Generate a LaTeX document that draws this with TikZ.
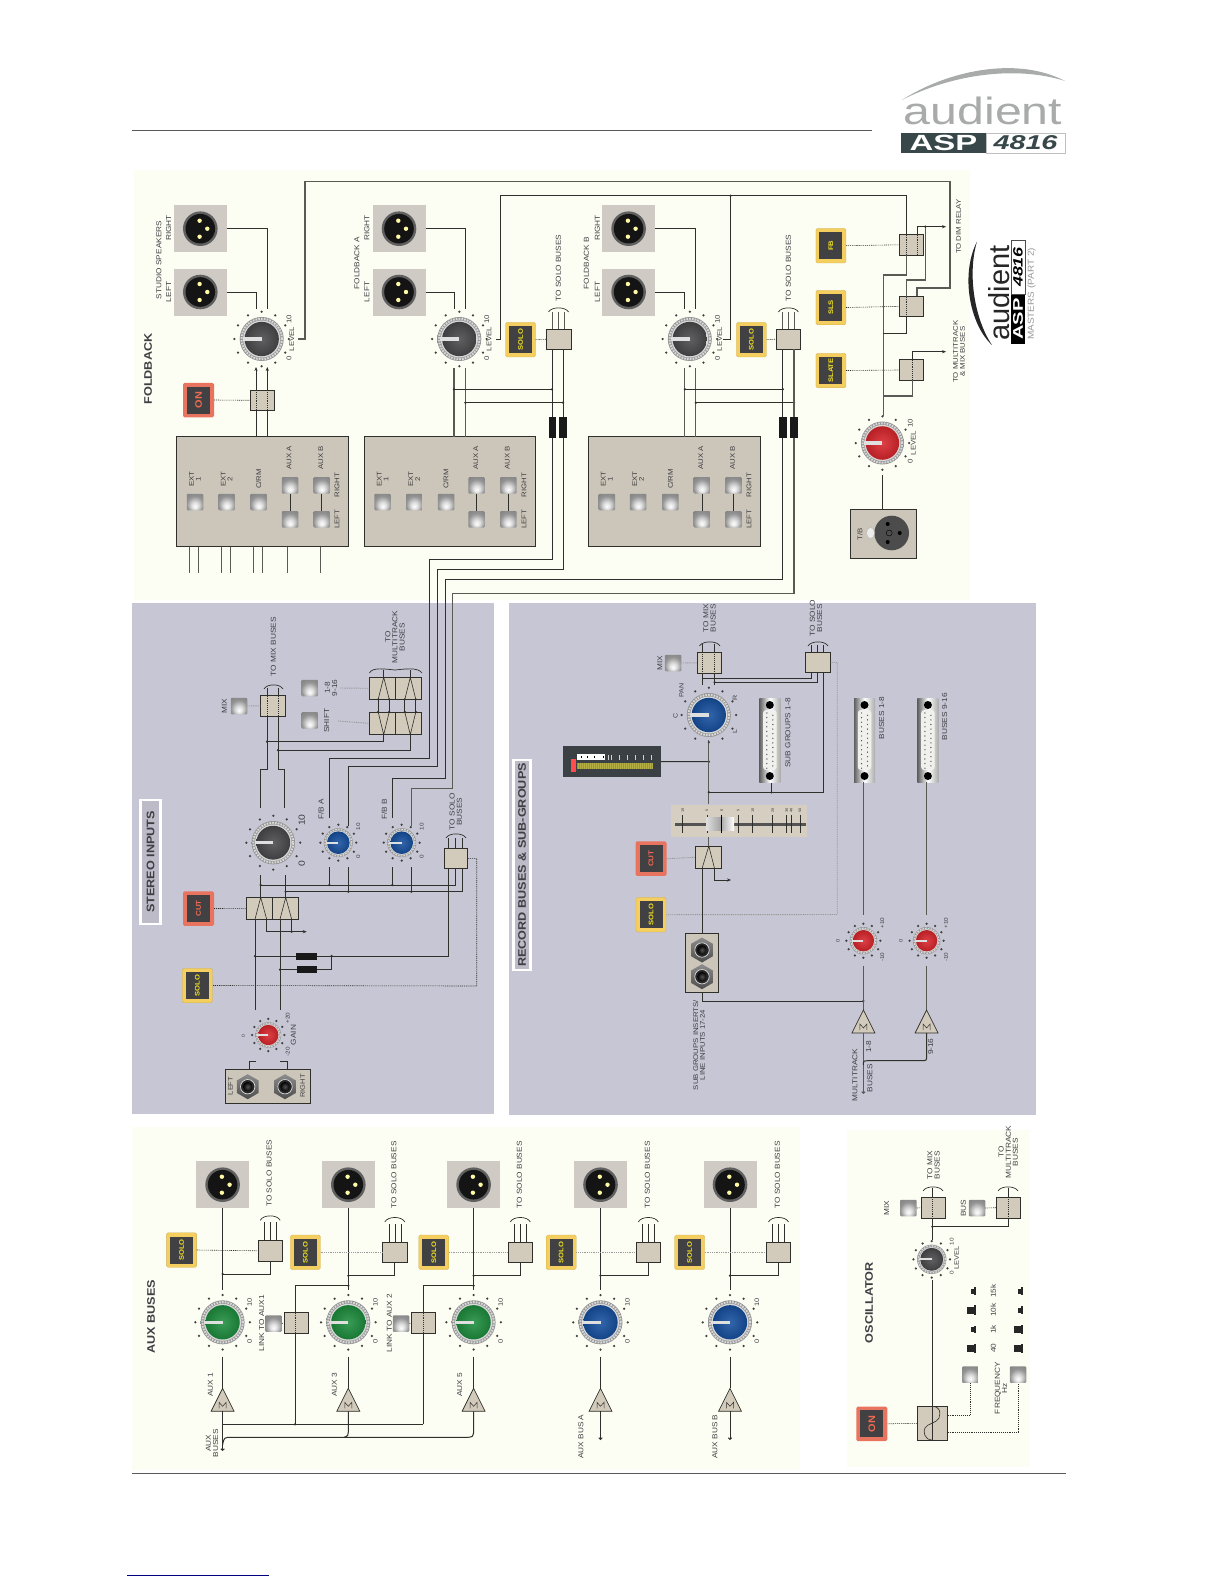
\documentclass[tikz,border=0pt]{standalone}
\usepackage{fontspec}
\setmainfont[FakeStretch=1.15]{Liberation Sans}
\newfontfamily\plainsans{Liberation Sans}
\usetikzlibrary{arrows.meta,calc,shapes.geometric}
\definecolor{creamp}{HTML}{FDFEF3}
\definecolor{lilacp}{HTML}{C7C6D4}
\definecolor{boxc}{HTML}{D2CBBC}
\definecolor{panelc}{HTML}{CCC5B9}
\definecolor{platec}{HTML}{CFCBC4}
\definecolor{linec}{HTML}{2F2F2B}
\definecolor{glinec}{HTML}{5A5A55}
\definecolor{textc}{HTML}{3E3E43}
\definecolor{yelb}{HTML}{F4CE5E}
\definecolor{redb}{HTML}{E8735F}
\definecolor{darkb}{HTML}{414144}
\definecolor{yelt}{HTML}{F2E21E}
\definecolor{redt}{HTML}{EE6A50}
\definecolor{kred}{HTML}{D8262C}
\definecolor{kblue}{HTML}{17509F}
\definecolor{kgreen}{HTML}{1E8E3E}
\definecolor{kgray}{HTML}{4A4A4C}
\definecolor{logog}{HTML}{A9ABAB}
\definecolor{logod}{HTML}{37474A}
\definecolor{meterc}{HTML}{3B4045}
\pgfdeclareradialshading{btnsh}{\pgfpoint{0bp}{-14bp}}{color(0bp)=(white); color(10bp)=(white!75!gray); color(25bp)=(gray!85!white); color(50bp)=(gray!90!black)}
\newcounter{lc}
\newcommand{\lab}[4][7.2]{\stepcounter{lc}\node[lbl,font=\fontsize{#1}{#1}\selectfont] (lab\arabic{lc}) at (#2,#3) {#4};}
\newcommand{\ttl}[3]{\stepcounter{lc}\node[lbl,font=\bfseries\fontsize{11}{12}\selectfont,text=textc] (lab\arabic{lc}) at (#1,#2) {#3};}
% name x y radius colour
\newcommand{\knob}[5]{%
 \foreach \a in {0,30,...,330}{\fill[black!75] ({#2+1.24*#4*cos(\a)},{#3+1.24*#4*sin(\a)}) circle (1.25pt);}
 \node[circle,minimum size=2*#4 pt,inner sep=0pt,shade,inner color=gray!35,outer color=gray!85] (#1) at (#2,#3) {};
 \draw[white!70!gray,line width=0.09*#4 pt,dash pattern=on 1.6pt off 1.2pt] (#2,#3) circle (0.92*#4 pt);
 \fill[white!70!gray] (#2,#3) circle (0.84*#4 pt);
 \shade[inner color=#5!88!white,outer color=#5!85!black] (#2,#3) circle (0.78*#4 pt);
 \draw[gray!25,line width=0.16*#4 pt] (#2,#3) -- ({#2-0.86*#4},#3);
}
\newcommand{\xlr}[3]{%
 \node[fill=platec,minimum width=53pt,minimum height=47pt,inner sep=0pt] (#1) at (#2,#3) {};
 \fill[gray!75!black] (#2,#3) circle (17.3pt);
 \fill[black!92] (#2,#3) circle (14.8pt);
 \foreach \dx/\dy in {-0.7/-8,7/0,-0.7/8}{\fill[yellow!35!white] ({#2+\dx},{#3+\dy}) circle (2.2pt);}
}
% name x y text
\newcommand{\ybtn}[4]{%
 \node[fill=yelb,draw=yelb!85!black,line width=0.3pt,rounded corners=1.5pt,minimum width=30pt,minimum height=34.5pt,inner sep=0pt] (#1) at (#2,#3) {};
 \node[fill=darkb,minimum width=27pt,minimum height=23pt,inner sep=0pt,text=yelt,font=\bfseries\fontsize{6.6}{6.6}\selectfont,rotate=90] (#1t) at (#2,#3) {\makebox[0pt]{#4}};
}
\newcommand{\rbtn}[5][7]{%
 \node[fill=redb,rounded corners=1.5pt,minimum width=31pt,minimum height=34.5pt,inner sep=0pt] (#2) at (#3,#4) {};
 \node[fill=darkb,minimum width=27pt,minimum height=23pt,inner sep=0pt,text=redt,font=\bfseries\fontsize{#1}{#1}\selectfont,rotate=90] (#2t) at (#3,#4) {\makebox[0pt]{#5}};
}
\newcommand{\pb}[3]{\node[shading=btnsh,minimum width=16.5pt,minimum height=16.5pt,inner sep=0pt,rounded corners=1pt] (#1) at (#2,#3) {};}
% name cx cy w h
\newcommand{\swb}[5]{\node[swbox,minimum width=#4 pt,minimum height=#5 pt] (#1) at (#2,#3) {};}
\newcommand{\jd}[2]{\fill[linec] (#1,#2) circle (1.25pt);}
\newcommand{\brk}[3]{\draw[wire,line width=0.7pt] (#1,#3+4) .. controls (#1+3,#3-1.5) and (#2-3,#3-1.5) .. (#2,#3+4);}
\newcommand{\amp}[3]{\coordinate (#1) at (#2,#3);
 \draw[linec,fill=boxc,line width=0.7pt] (#2,#3) -- ({#2-11.5},{#3+23}) -- ({#2+11.5},{#3+23}) -- cycle;
 \draw[linec,line width=0.5pt] ({#2-3.5},{#3+20}) -- ({#2-3.5},{#3+14}) -- (#2,{#3+18}) -- ({#2+3.5},{#3+14}) -- ({#2+3.5},{#3+20});}
\newcommand{\jack}[3]{%
 \node[regular polygon,regular polygon sides=6,rotate=30,minimum size=25pt,inner sep=0pt,shading=axis,top color=gray!90,bottom color=gray!60!black] (#1) at (#2,#3) {};
 \draw[gray!25,line width=0.7pt,fill=black!85] (#2,#3) circle (7.2pt);
 \shade[inner color=gray!65!black,outer color=black] (#2,#3) circle (4.8pt);
}
% name, xleft
\newcommand{\dsub}[2]{%
 \node[minimum width=21pt,minimum height=84pt,inner sep=0pt,shading=axis,left color=gray!75!black,right color=gray!65,middle color=white,shading angle=90] (#1) at ({#2+10.5},740) {};
 \node[fill=yellow!12!gray!15,rounded corners=3pt,minimum width=13.5pt,minimum height=60pt,inner sep=0pt] (#1b) at ({#2+10.5},740) {};
 \fill[black] ({#2+10.5},705) circle (4pt);
 \fill[black] ({#2+10.5},776) circle (4pt);
 \foreach \i in {0,...,12}{\fill[gray!65!black] ({#2+7.5},{713+\i*4.6}) circle (0.7pt);}
 \foreach \i in {0,...,11}{\fill[gray!65!black] ({#2+13.5},{715.3+\i*4.6}) circle (0.7pt);}
}
% selector panel: name xl xr ext1 ext2 crm auxa auxb rl
\newcommand{\selpanel}[9]{%
 \node[draw=linec,line width=0.9pt,fill=panelc,minimum width=(#3-#2)*1pt,minimum height=110pt,inner sep=0pt] (#1) at ({(#2+#3)/2},491.7) {};
 \pb{#1e}{#4}{502}\pb{#1f}{#5}{502}\pb{#1c}{#6}{502}
 \pb{#1ar}{#7}{485.3}\pb{#1al}{#7}{519.3}\draw[linec,line width=0.6pt] (#1ar) -- (#1al);
 \pb{#1br}{#8}{485.3}\pb{#1bl}{#8}{519.3}\draw[linec,line width=0.6pt] (#1br) -- (#1bl);
 \lab[6.8]{#4}{479}{EXT\\1}\lab[6.8]{#5}{479}{EXT\\2}\lab[6.8]{#6}{479}{C/RM}
 \lab[6.8]{#7-1}{458}{AUX A}\lab[6.8]{#8-1}{458}{AUX B}
 \lab[6.8]{#9}{485}{RIGHT}\lab[6.8]{#9}{519}{LEFT}
}
\tikzset{
 lbl/.style={rotate=90,text=textc,align=center,inner sep=0pt},
 wire/.style={draw=linec,line width=1pt},
 gwire/.style={draw=glinec,line width=1.1pt},
 ctl/.style={draw=linec,line width=0.6pt,dash pattern=on 1pt off 0.9pt},
 ctlg/.style={draw=gray!80,line width=0.9pt,dash pattern=on 1pt off 0.8pt},
 swbox/.style={draw=linec,line width=0.7pt,fill=boxc,inner sep=0pt},
 arr/.style={-{Stealth[length=4pt,width=3.2pt]}},
 tail/.style={-{Straight Barb[length=1.6pt,width=3.5pt]}},
 res/.style={fill=black!90,inner sep=0pt},
 zig/.style={draw=linec,line width=0.6pt},
}
\begin{document}
\begin{tikzpicture}[x=1pt,y=-1pt]
\useasboundingbox (0,0) rectangle (1224,1584);
\fill[white] (0,0) rectangle (1224,1584);
% panels
\fill[creamp] (134,170) rectangle (970,600);
\fill[lilacp] (132,603) rectangle (494,1114);
\fill[lilacp] (509,603) rectangle (1036,1115);
\fill[creamp] (132,1127) rectangle (800,1470);
\fill[creamp] (847,1130) rectangle (1030,1467);
% rules
\draw[gray!70!black,line width=0.7pt] (132,130.5) -- (872,130.5);
\draw[gray!70!black,line width=1pt] (132,1473) -- (1066,1473);
\draw[blue!50!black,line width=1pt] (127,1575) -- (269,1575);
% header logo
\fill[logog] (902,100) .. controls (945,72) and (1015,55) .. (1065,81) .. controls (1015,65) and (950,75) .. (902,100) -- cycle;
\node[text=logog,font=\plainsans\fontsize{38}{38}\selectfont,xscale=1.27,inner sep=0pt,anchor=center] (logoaud) at (983,111) {audient};
\node[fill=logod,minimum width=85pt,minimum height=20pt,inner sep=0pt,text=white,font=\bfseries\fontsize{22}{22}\selectfont] (logoasp) at (943.5,143) {\scalebox{1.3}[1]{ASP}};
\node[draw=gray!50,line width=0.5pt,fill=white,minimum width=79pt,minimum height=20pt,inner sep=0pt,text=logod,font=\bfseries\itshape\fontsize{20}{20}\selectfont] (logonum) at (1025.5,143) {\scalebox{1.25}[1]{4816}};
% small logo
\fill[black!85] (977,241.5) .. controls (960,275) and (970,325) .. (992,345) .. controls (975,320) and (967,275) .. (977,241.5) -- cycle;
\node[lbl,text=black!85,font=\plainsans\fontsize{29}{29}\selectfont] (slogo) at (999,293) {audient};
\node[fill=black,minimum width=49pt,minimum height=14pt,inner sep=0pt,text=white,font=\bfseries\fontsize{14}{14}\selectfont,rotate=90] (sasp) at (1018,319) {\scalebox{1.25}[1]{ASP}};
\node[draw=black!70,line width=0.5pt,fill=white,minimum width=54pt,minimum height=14pt,inner sep=0pt,text=black,font=\bfseries\itshape\fontsize{13.5}{13.5}\selectfont,rotate=90] (snum) at (1018,267) {\scalebox{1.15}[1]{4816}};
\node[lbl,text=gray!80,font=\fontsize{8.7}{9}\selectfont] (smast) at (1031.7,294) {MASTERS (PART 2)};

%% FOLDBACK -------------------------------------------------------
\ttl{148}{369}{FOLDBACK}
\xlr{xs1}{200.3}{228.7}\xlr{xs2}{200.3}{292}
\xlr{xa1}{399}{228.7}\xlr{xa2}{399}{292}
\xlr{xb1}{628.6}{228.7}\xlr{xb2}{628.6}{292}
\lab{159}{260}{STUDIO SPEAKERS}\lab{168.7}{228}{RIGHT}\lab{168.7}{292}{LEFT}
\lab{357}{263}{FOLDBACK A}\lab{367}{228}{RIGHT}\lab{367}{292}{LEFT}
\lab{586.5}{263}{FOLDBACK B}\lab{597.5}{228}{RIGHT}\lab{597.5}{292}{LEFT}
% wires behind
\draw[wire] (xs1.east) -| (267.5,309);
\draw[wire] (xs2.east) -| (256,309);
\draw[wire] (xa1.east) -| (465.3,309);
\draw[wire] (xa2.east) -| (454,309);
\draw[wire] (xb1.east) -| (695.8,309);
\draw[wire] (xb2.east) -| (684.9,309);
\knob{k1}{261.7}{339}{22}{kgray}
\knob{k2}{459.3}{339}{22}{kgray}
\knob{k3}{689.8}{339}{22}{kgray}
\lab[6.8]{291.7}{339}{LEVEL}\lab[6.8]{289}{358}{0}\lab[6.8]{289}{319}{10}
\lab[6.8]{489}{339}{LEVEL}\lab[6.8]{486.7}{358}{0}\lab[6.8]{486.7}{319}{10}
\lab[6.8]{719.6}{339}{LEVEL}\lab[6.8]{717.6}{358}{0}\lab[6.8]{717.6}{319}{10}
% selector panels
\selpanel{sel1}{176.7}{348.7}{195}{226.7}{258.7}{290}{321.7}{337}
\selpanel{sel2}{364.3}{535.3}{382.7}{414.3}{446}{476.7}{508.3}{524}
\selpanel{sel3}{588.5}{760.4}{606.8}{638.2}{670.4}{701.8}{733.5}{749}
\foreach \x in {189.3,198.7,221.3,230.7,253.3,262.7,287.3,320.7}{\draw[gwire] (\x,546.7) -- (\x,572.7);}
% ON switch
\rbtn[9.5]{on1}{198.5}{400}{ON}
\swb{sw1}{262}{400.3}{24}{20.6}
\draw[ctl] (on1.east) -- (sw1.west);
\draw[wire] (256,436.7) -- (256,410.6);
\draw[wire] (267.3,436.7) -- (267.3,410.6);
\draw[wire,arr] (256,390) -- (256,367);
\draw[wire,arr] (267.3,390) -- (267.3,367);
\draw[ctl] (256,390) -- (256,410.6);\draw[ctl] (267.3,390) -- (267.3,410.6);
% level out of studio speakers to dim relay
\coordinate (dimT) at (917,316);
\draw[gwire] (298,339) -| (305,181.7) -- (950,181.7) |- (917,288) -- (917,296.7);
\draw[ctl] (917,296.7) -- (dimT);
\draw[wire] (496,339) -| (500.7,195.7) -- (906.2,195.7) -- (906.2,234.7);
\draw[wire] (722.6,339) -| (730.6,195.7);\jd{730.6}{195.7}
% FB A wires
\draw[gwire] (454,368) -- (454,436.7);
\draw[gwire] (465.3,368) -- (465.3,436.7);
\draw[gwire] (684.9,368) -- (684.9,436.7);
\draw[gwire] (695.8,368) -- (695.8,436.7);
\draw[wire] (454,389.3) -- (552,389.3);\jd{454}{389.3}\jd{552}{389.3}
\draw[wire] (465.3,402.7) -- (563,402.7);\jd{465.3}{402.7}\jd{563}{402.7}
\draw[wire] (684.9,389.3) -- (782.8,389.3);\jd{684.9}{389.3}\jd{782.8}{389.3}
\draw[wire] (695.8,402.7) -- (794,402.7);\jd{695.8}{402.7}\jd{794}{402.7}
% solo boxes foldback
\ybtn{soA}{520.5}{339.7}{SOLO}
\ybtn{soB}{751.4}{339.7}{SOLO}
\swb{bxA}{558.7}{339.2}{24.5}{20.3}
\swb{bxB}{788.4}{339.2}{24}{20.3}
\draw[ctl] (soA.east) -- (bxA.west);
\draw[ctl] (soB.east) -- (bxB.west);
\foreach \c in {558.5,788.4}{
 \foreach \d in {-6,0,6}{\draw[gwire,line width=0.7pt] ({\c+\d},329) -- ({\c+\d},311.5);}
 \brk{\c-10}{\c+10}{308}
}
\lab[7.2]{558.4}{268}{TO SOLO BUSES}
\lab[7.2]{788.4}{268}{TO SOLO BUSES}
% long lines to stereo
\draw[wire] (552,349.3) -- (552,559.3) -- (429.3,559.3) -- (429.3,758.3) -- (329.3,758.3) -- (329.3,818);
\draw[wire] (563,349.3) -- (563,569.3) -- (437.3,569.3) -- (437.3,766.7) -- (348.3,766.7) -- (348.3,826);
\draw[wire] (782.8,349.3) -- (782.8,579.3) -- (445.3,579.3) -- (445.3,778.7) -- (392.3,778.7) -- (392.3,818);
\draw[gwire] (794,349.3) -- (794,593.3) -- (452.7,593.3) -- (452.7,788.3) -- (411.3,788.3) -- (411.3,826);
\foreach \x [count=\i] in {552.3,563,782.9,794}{\node[res,minimum width=7.3pt,minimum height=20.7pt] (rb\i) at (\x,427.3) {};}
% talkback
\node[draw=linec,line width=0.9pt,fill=panelc,minimum width=66pt,minimum height=49pt,inner sep=0pt] (tb) at (883.7,533.5) {};
\fill[gray!60!black] (891.7,533) circle (17.3pt);
\foreach \dx/\dy in {-4/-9,-4/9,8/0}{\fill[black] ({891.7+\dx},{533+\dy}) circle (2pt);}
\draw[black,line width=0.4pt] (889.2,533) circle (3pt);
\fill[white!85!gray,draw=gray!60,line width=0.3pt] (870.5,533) ellipse (4pt and 5.5pt);
\lab[6.8]{860}{534}{T/B}
\knob{ktb}{882.4}{443}{21.5}{kred}
\lab[6.8]{913.3}{443}{LEVEL}\lab[6.8]{910.3}{461.7}{0}\lab[6.8]{910.3}{423}{10}
\draw[wire] (882.4,508.5) -- (882.4,475);
\ybtn{bFB}{830.9}{245.7}{FB}
\ybtn{bSLS}{830.9}{307.5}{SLS}
\ybtn{bSLT}{830.9}{370.5}{SLATE}
\swb{sFB}{911.3}{244.8}{24}{20.4}
\swb{sSL}{911.3}{306.4}{24}{19.6}
\swb{sSA}{911.3}{370}{24}{20.4}
\draw[ctl] (bFB.east) -- (sFB.west);
\draw[ctl] (bSLS.east) -- (sSL.west);
\draw[ctl] (bSLT.east) -- (sSA.west);
% talkback routing
\draw[gwire] (883.4,416) -- (883.4,275) -- (906.2,275) -- (906.2,255);
\draw[ctl] (906.2,234.7) -- (906.2,255);
\draw[wire] (883.4,333.5) -- (906.2,333.5) -- (906.2,316.2);
\draw[ctl] (906.2,296.7) -- (906.2,316.2);
\draw[gwire] (906.2,296.7) -- (906.2,280) -- (925.2,280) -- (925.2,226.7);
\draw[gwire] (883.4,396) -- (912.3,396) -- (912.3,380.2);
\draw[ctl] (912.3,359.8) -- (912.3,380.2);
\draw[wire,arr] (912.3,359.8) -- (912.3,351.7) -- (946,351.7);
\draw[wire,arr] (917,234.7) -- (917,226.7) -- (946,226.7);
\draw[ctl] (917,234.7) -- (917,255);
\jd{925.2}{226.7}
\lab[6.8]{958.5}{226.7}{TO DIM RELAY}
\lab[6.8]{959}{351.7}{TO MULTITRACK\\\& MIX BUSES}

%% STEREO INPUTS ----------------------------------------------------
\node[fill=lilacp!85!gray,draw=white,line width=2.4pt,minimum width=20pt,minimum height=124pt,inner sep=0pt] (tst) at (150.5,862) {};
\ttl{150.5}{862}{STEREO INPUTS}
\rbtn{cutS}{198.5}{908.5}{CUT}
\ybtn{soS}{197.3}{985.5}{SOLO}
\swb{cs1}{259.5}{908.3}{25.6}{22}
\swb{cs2}{285.3}{908.3}{26}{22}
\draw[ctl] (cutS.east) -- (cs1.west);
\draw[zig] (255,919.3) -- (260.7,897.3) -- (266.7,919.3);
\draw[zig] (280,919.3) -- (285.7,897.3) -- (291.7,919.3);
\draw[wire] (255,919.3) -- (255,1010);
\draw[wire] (280,919.3) -- (280,1010);
\draw[wire] (260.7,897.3) -- (260.7,875);
\draw[wire] (285.7,897.3) -- (285.7,875);
\draw[wire,arr] (266.7,919.3) -- (266.7,931.7) -- (306.7,931.7);
\draw[wire] (291.7,919.3) -- (291.7,931.7);\jd{291.7}{931.7}
\knob{kst}{273.3}{842.7}{21.7}{kgray}
\lab[9]{301.7}{820}{10}\lab[9]{301.7}{863.3}{0}
\draw[wire] (260.3,808) -- (260.3,769.3) -- (267,769.3) -- (267,716);
\draw[wire] (284.3,808) -- (284.3,769.3) -- (278,769.3) -- (278,716);
% mix
\pb{bMixS}{239}{706}\lab{224.3}{706}{MIX}
\swb{mxS}{272.8}{705.8}{24.3}{20.4}
\draw[ctlg] (bMixS.east) -- (mxS.west);
\draw[wire] (267,695.7) -- (267,688);\draw[wire] (278,695.7) -- (278,688);
\draw[ctl] (267,695.7) -- (267,716);\draw[ctl] (278,695.7) -- (278,716);
\brk{264}{283}{685}
\lab[7.2]{273.3}{646.7}{TO MIX BUSES}
% multitrack
\swb{m1}{382.2}{723.3}{25.7}{22.7}
\swb{m2}{408}{723.3}{26}{22.7}
\swb{m3}{382.2}{688.3}{25.7}{22}
\swb{m4}{408}{688.3}{26}{22}
\draw[wire] (267,741.7) -- (383.7,741.7) -- (383.7,734.7);\jd{267}{741.7}
\draw[wire] (278,750) -- (410.3,750) -- (410.3,734.7);\jd{278}{750}
\foreach \c in {383.7,410.3}{
 \draw[zig] (\c,734.7) -- ({\c-5.5},712) ({\c},734.7) -- ({\c+5.5},712);
 \draw[zig] ({\c-5.5},699.3) -- (\c,677.3) -- ({\c+5.5},699.3);
 \draw[wire] ({\c-5.5},699.3) -- ({\c-5.5},712);
 \draw[wire] ({\c+5.5},699.3) -- ({\c+5.5},712);
 \jd{\c-5.5}{699.3}\jd{\c+5.5}{699.3}\jd{\c-5.5}{712}\jd{\c+5.5}{712}
 \draw[wire] (\c,677.3) -- (\c,670);
}
\draw[wire,line width=0.7pt] (369.5,673) .. controls (372,667) and (385,669) .. (395,670) .. controls (405,669) and (418,667) .. (422,673);
\lab[7.2]{395}{637}{TO\\MULTITRACK\\BUSES}
\pb{bShift}{309.7}{720.3}\pb{b18}{309.7}{688}
\lab{326.7}{720.7}{SHIFT}\lab{331}{688}{1-8\\9-16}
\coordinate (cS) at (338,721);\coordinate (c18) at (340,688);
\draw[ctlg] (cS) -- (m1.west);\draw[ctlg] (c18) -- (m3.west);
% fb knobs
\knob{kfa}{338.3}{842.7}{14.5}{kblue}
\knob{kfb}{401.7}{842.7}{14.5}{kblue}
\lab{321}{809.3}{F/B A}\lab{384.3}{809.3}{F/B B}
\lab[5.5]{358.3}{826.7}{10}\lab[5.5]{358.3}{856.7}{0}
\lab[5.5]{421.7}{826.7}{10}\lab[5.5]{421.7}{856.7}{0}
% buses
\draw[wire] (260.7,885) -- (455.7,885) -- (455.7,868.3);\jd{260.7}{885}
\draw[wire] (285.7,891.7) -- (462.3,891.7) -- (462.3,868.3);\jd{285.7}{891.7}
\draw[wire] (329.3,885) -- (329.3,867);\draw[wire] (348.3,891.7) -- (348.3,867);
\draw[wire] (392.3,885) -- (392.3,867);\draw[wire] (411.3,891.7) -- (411.3,867);
\jd{348.3}{891.7}\jd{411.3}{891.7}\jd{329.3}{885}\jd{392.3}{885}
\swb{soBx}{456}{858.3}{23.4}{20}
\foreach \x in {448.5,455.7,462.3}{\draw[wire,line width=0.7pt] (\x,848.3) -- (\x,838);}
\brk{446}{466}{834}
\lab[7.2]{455.7}{811.7}{TO SOLO\\BUSES}
\draw[wire] (448.5,868.3) -- (448.5,956) -- (254.3,956);\jd{255}{956}
\draw[wire] (280,969.5) -- (331.7,969.5) -- (331.7,956);\jd{280}{969.5}\jd{331.7}{956}
\node[res,minimum width=20.5pt,minimum height=7.3pt] (rs1) at (306.3,956.3) {};
\node[res,minimum width=20.5pt,minimum height=7.3pt] (rs2) at (307,969.5) {};
\draw[ctl] (soBx.east) -| (476.7,986) -- (soS.east);
% gain
\knob{kgn}{268.3}{1035}{13}{kred}
\lab{293.3}{1035}{GAIN}\lab[5.5]{287.7}{1018}{+20}\lab[5.5]{287.7}{1051.7}{-20}\lab[4.5]{243.3}{1035.7}{0}
\node[draw=linec,line width=0.9pt,fill=panelc,minimum width=85pt,minimum height=34pt,inner sep=0pt] (inS) at (267.5,1086.3) {};
\jack{jL}{247.7}{1086.7}\jack{jR}{285}{1086.7}
\lab[6.5]{230.3}{1086}{LEFT}\lab[6.5]{302.7}{1086}{RIGHT}
\draw[wire,line width=0.7pt] (249,1069.3) -- (249,1061.7) -- (256,1061.7);
\draw[wire,line width=0.7pt] (287,1069.3) -- (287,1061.7) -- (280,1061.7);

%% RECORD BUSES --------------------------------------------------
\node[fill=lilacp!85!gray,draw=white,line width=2.4pt,minimum width=17pt,minimum height=210pt,inner sep=0pt] (trec) at (522,865) {};
\ttl{522}{865}{RECORD BUSES \& SUB-GROUPS}
% meter
\node[fill=meterc,minimum width=98pt,minimum height=31pt,inner sep=0pt] (met) at (611.6,761.5) {};
\fill[white] (577,754) rectangle (605,760);
\fill[yellow!65!black!95] (577,763) rectangle (652.7,768.5);
\foreach \i in {0,...,37}{\draw[black!45,line width=0.3pt] ({577.5+\i*2},763) -- ({577.5+\i*2},768.5);}
\fill[red!70!white] (571,759) rectangle (575.7,771.7);
\foreach \x in {608,611,619,627,635,643,651}{\draw[gray!35,line width=0.4pt] (\x,755) -- (\x,759.5);}
\foreach \x in {581,587,594,603}{\draw[black,line width=0.4pt] (\x,756) -- (\x,758);}
\draw[wire] (met.east) -- (708.8,761.7);\jd{708.8}{761.7}
% main vertical
\draw[gwire] (708.8,740) -- (708.8,804);
\draw[wire] (708.8,792.3) -- (823.8,792.3) -- (823.8,672.7);\jd{708.8}{792.3}\jd{771.5}{792.3}
\draw[wire] (771.5,792.3) -- (771.5,781.7);
\knob{kpan}{708.8}{715}{22}{kblue}
\lab[6.2]{681.4}{690.7}{PAN}\lab[6.2]{675.5}{715.7}{C}\lab[6.2]{735}{697.7}{R}\lab[6.2]{735}{732}{L}
% mix and solo
\swb{mxR}{709}{662.8}{24.3}{21}
\swb{soR}{818}{662.5}{24.6}{20.4}
\pb{bMixR}{673}{663}\lab{660}{663.3}{MIX}
\draw[ctlg] (bMixR.east) -- (mxR.west);
\draw[wire] (702.6,685) -- (702.6,673.3);\draw[wire] (714.6,685) -- (714.6,673.3);
\draw[wire] (702.6,652.3) -- (702.6,644);\draw[wire] (714.6,652.3) -- (714.6,644);
\draw[ctl] (702.6,652.3) -- (702.6,673.3);\draw[ctl] (714.6,652.3) -- (714.6,673.3);
\brk{699.5}{720}{642}
\lab[7.2]{709.5}{618}{TO MIX\\BUSES}
\foreach \x in {811,817.3,823.8}{\draw[wire,line width=0.7pt] (\x,652.3) -- (\x,645);}
\brk{808}{828}{642}
\lab[7.2]{816}{618}{TO SOLO\\BUSES}
\draw[wire] (702.6,678) -- (811,678) -- (811,672.7);
\draw[wire] (714.6,682.3) -- (817.3,682.3) -- (817.3,672.7);\jd{714.6}{682.3}
\rbtn{cutR}{651}{858.7}{CUT}
\ybtn{soRb}{651}{914.7}{SOLO}
\draw[ctlg] (soR.east) -| (837.2,914.5) -- (soRb.east);
\swb{csR}{708.2}{857.3}{26.4}{22.7}
\draw[ctlg] (cutR.east) -- (csR.west);
\draw[zig] (702,868.7) -- (708.8,846) -- (714.6,868.7);
\draw[gwire] (708.8,846) -- (708.8,837);
% fader
\node[fill=boxc!92!white,minimum width=136.5pt,minimum height=32pt,inner sep=0pt] (fad) at (739,821) {};
\fill[gray!65!black] (675,822.7) rectangle (806,825.7);
\foreach \x/\t [count=\i] in {682.7/10,707/5,721.7/0,738.3/5,752.7/10,772.7/20,786.7/30,791.3/40,800/50}{
 \draw[linec,line width=0.8pt] (\x,815) -- (\x,833);
 \node[lbl,font=\fontsize{3.4}{3.4}\selectfont,text=black!80] (ft\i) at (\x,810.5) {\t};
}
\node[shading=axis,left color=gray!25,right color=white,middle color=gray!70,shading angle=90,minimum width=28pt,minimum height=13.4pt,inner sep=0pt] (fh) at (720,824) {};
\draw[black,line width=1.4pt] (721.7,815) -- (721.7,833);
% insert jacks
\node[draw=linec,line width=0.9pt,fill=panelc,minimum width=32.5pt,minimum height=59.4pt,inner sep=0pt] (jbR) at (701.8,963) {};
\jack{jR1}{702}{950}\jack{jR2}{702}{976.7}
\lab[6.8]{699}{1045}{SUB GROUPS INSERTS/\\LINE INPUTS 17-24}
\draw[wire] (702,868.7) -- (702,933.3);
\draw[wire,arr] (714.6,868.7) -- (714.6,880) -- (731,880);
\draw[wire] (702,992.7) -- (702,1001) -- (863.4,1001);\jd{863.4}{1001}
% dsubs
\dsub{dA}{759.3}\dsub{dB}{854}\dsub{dC}{917.4}
\lab{788}{733}{SUB GROUPS 1-8}\lab{881.6}{718}{BUSES 1-8}\lab{944.6}{716.7}{BUSES 9-16}
\draw[gwire] (863.4,782) -- (863.4,915);
\draw[gwire] (926.6,782) -- (926.6,915);
\knob{kr1}{863.4}{940.7}{13.7}{kred}
\knob{kr2}{926.6}{940.7}{13.7}{kred}
\lab[5.5]{882.2}{923.3}{+10}\lab[5.5]{882.2}{957.3}{-10}\lab[5]{838}{940.7}{0}
\lab[5.5]{946}{923.3}{+10}\lab[5.5]{946}{957.3}{-10}\lab[5]{901}{940.7}{0}
\draw[gwire] (863.4,965.7) -- (863.4,1010);
\draw[gwire] (926.6,965.7) -- (926.6,1010);
\amp{aR1}{863.4}{1010}\amp{aR2}{926.6}{1010}
\draw[gwire,tail] (863.4,1033) -- (863.4,1094);
\draw[wire] (863.4,1065) .. controls (863.4,1060.7) .. (869,1060.7) -- (921.6,1060.7) .. controls (926.6,1060.7) .. (926.6,1055) -- (926.6,1033);
\lab{855}{1075}{MULTITRACK}\lab{869.8}{1078}{BUSES}\lab{868.6}{1046.7}{1-8}\lab{930.6}{1046.7}{9-16}

%% AUX BUSES ------------------------------------------------------
\ttl{151}{1316.7}{AUX BUSES}
\foreach \n/\x/\col in {1/222.6/kgreen,2/348.3/kgreen,3/473.6/kgreen,4/600.5/kblue,5/730/kblue}{
 \xlr{xx\n}{\x}{1184.7}
 \draw[wire] (xx\n.south) -- (\x,1290);
 \knob{ka\n}{\x}{1322.3}{22}{\col}
 \lab[6.5]{\x+27}{1302}{10}\lab[6.5]{\x+27}{1341.7}{0}
 \draw[wire] (\x,1356.7) -- (\x,1388.3);
 \amp{am\n}{\x}{1388.3}
}
\lab{210.4}{1385}{AUX 1}\lab{334.5}{1385}{AUX 3}\lab{459.8}{1385}{AUX 5}
\lab{581}{1436.7}{AUX BUS A}\lab{714.8}{1436.7}{AUX BUS B}
\draw[wire,tail] (600.5,1411.3) -- (600.5,1440);
\draw[wire,tail] (730,1411.3) -- (730,1440);
\draw[wire,tail] (222.6,1411.3) -- (222.6,1451);
\draw[wire] (222.6,1424.3) -- (423.4,1424.3);
\draw[wire] (295,1424.3) -- (295,1333.3);
\draw[wire] (423.4,1424.3) -- (423.4,1333.3);
\draw[wire] (222.6,1445) .. controls (224,1437.3) .. (232,1437.3) -- (465,1437.3) .. controls (473.6,1437.3) .. (473.6,1428) -- (473.6,1411.3);
\draw[wire] (344,1437.3) .. controls (348.3,1436) .. (348.3,1428) -- (348.3,1411.3);
\jd{295}{1424.3}
% link switches
\swb{ln1}{296}{1323}{24}{20.6}
\swb{ln2}{423.5}{1323}{24}{20.6}
\draw[ctl] (295,1312.7) -- (295,1333.3);\draw[ctl] (423.4,1312.7) -- (423.4,1333.3);
\draw[wire] (295,1312.7) -- (295,1285.7) -- (348.3,1285.7);\jd{348.3}{1285.7}
\draw[wire] (423.4,1312.7) -- (423.4,1285.7) -- (473.6,1285.7);\jd{473.6}{1285.7}
\pb{lb1}{273.5}{1323.5}\pb{lb2}{401}{1323.5}
\draw[ctl] (lb1.east) -- (ln1.west);\draw[ctl] (lb2.east) -- (ln2.west);
\lab{261.6}{1323.3}{LINK TO AUX1}\lab{389.5}{1323}{LINK TO AUX 2}
% aux solo
\ybtn{sa1}{181.6}{1250}{SOLO}
\ybtn{sa2}{305.4}{1252.3}{SOLO}
\ybtn{sa3}{433.8}{1252.3}{SOLO}
\ybtn{sa4}{561.2}{1252.3}{SOLO}
\ybtn{sa5}{689.7}{1252.3}{SOLO}
\swb{sb1}{270.2}{1250.8}{24.4}{20.4}
\swb{sb2}{394.8}{1252.3}{24.4}{20.6}
\swb{sb3}{520.3}{1252.3}{24.4}{20.6}
\swb{sb4}{648.3}{1252.3}{24.4}{20.6}
\swb{sb5}{778.5}{1252.3}{24.4}{20.6}
\draw[ctl] (sa1.east) -- (sb1.west);
\foreach \n in {2,3,4,5}{\draw[ctlg] (sa\n.east) -- (sb\n.west);}
\foreach \n/\xx/\yy in {1/222.6/1274,2/348.3/1275.7,3/473.6/1275.7,4/600.5/1275.7,5/730/1275.7}{
 \draw[wire] (sb\n.south) |- (\xx,\yy);
 \jd{\xx}{\yy}
 \foreach \d in {-6,0,6}{\draw[wire,line width=0.6pt] ($(sb\n.south)+(\d,-20.5)$) -- ($(sb\n.south)+(\d,-39)$);}
 \path (sb\n.south) ++(0,-45) coordinate (bk\n);
 \draw[wire,line width=0.7pt] ($(bk\n)+(-10,4)$) .. controls ($(bk\n)+(-7,-2)$) and ($(bk\n)+(7,-2)$) .. ($(bk\n)+(10,4)$);
 \path (sb\n.south) ++(-1,-88) node[lbl,font=\fontsize{7.2}{7.2}\selectfont] (tsa\n) {TO SOLO BUSES};
}
\lab{212}{1443}{AUX\\BUSES}

%% OSCILLATOR -----------------------------------------------------
\ttl{869}{1302.7}{OSCILLATOR}
\rbtn[9.5]{onO}{871.8}{1423.8}{ON}
\swb{osc}{932.5}{1423.3}{30.4}{34.7}
\draw[ctl] (onO.east) -- (osc.west);
\draw[wire] (932.3,1406) -- (932.3,1440.7);
\draw[zig] (932.3,1440) .. controls (924,1440) and (923,1431) .. (925,1428) .. controls (927,1423.5) and (937,1423) .. (939,1418) .. controls (941,1412) and (940,1406.5) .. (932.3,1406.5);
\draw[wire] (932.3,1406) -- (932.3,1280);
\knob{kos}{931.7}{1259.3}{14.7}{kgray}
\lab[6.5]{956.7}{1258.3}{LEVEL}\lab[5.5]{951.7}{1272.7}{0}\lab[5.5]{951.7}{1241.7}{10}
\swb{mxO}{933}{1207.7}{24}{20.6}
\swb{buO}{1008.7}{1207.7}{24}{20.6}
\draw[wire] (932.3,1240) -- (932.3,1218);
\draw[wire] (932.3,1197.3) -- (932.3,1188);
\draw[ctl] (932.3,1197.3) -- (932.3,1218);
\draw[wire] (932.3,1226.7) -- (1008.3,1226.7) -- (1008.3,1218);\jd{932.3}{1226.7}
\draw[wire] (1008.3,1197.3) -- (1008.3,1188);
\draw[ctl] (1008.3,1197.3) -- (1008.3,1218);
\brk{923}{943}{1187}
\brk{998}{1018}{1187}
\lab[7.2]{933.6}{1165}{TO MIX\\BUSES}
\lab[7.2]{1008.3}{1152}{TO\\MULTITRACK\\BUSES}
\pb{bMixO}{908.3}{1208}\pb{bBus}{977}{1208}
\lab{886.7}{1208}{MIX}\lab{963.3}{1208}{BUS}
\draw[ctl] (bMixO.east) -- (mxO.west);
\draw[ctl] (bBus.east) -- (buO.west);
% frequency switches: base x, y, height, half width
\foreach \bx/\yy/\h/\w in {975.7/1348.3/9/3.5,975.7/1329.3/5/2.5,975.7/1310/9/3.5,975.7/1291/5/2.5,1022.7/1348.3/9/3.5,1022.7/1329.3/9/3.5,1022.7/1310/5/2.5,1022.7/1291/5/2.5}{
 \fill[black!85] (\bx-1.4,\yy-\w-1.3) rectangle (\bx,\yy+\w+1.3);
 \fill[black!85] (\bx-\h,\yy-\w) rectangle (\bx,\yy+\w);
}
\lab{993.3}{1348.3}{40}\lab{993.3}{1329.3}{1k}\lab{993.3}{1310}{10k}\lab{993.3}{1291}{15k}
\lab{1001}{1388}{FREQUENCY\\Hz}
\pb{bF1}{970.3}{1374.7}\pb{bF2}{1018}{1374.7}
\coordinate (oc1) at (947.7,1415);\coordinate (oc2) at (947.7,1432.3);
\draw[ctl] (oc1) -| (bF1.south);
\draw[ctl] (oc2) -| (bF2.south);
\end{tikzpicture}
\end{document}
